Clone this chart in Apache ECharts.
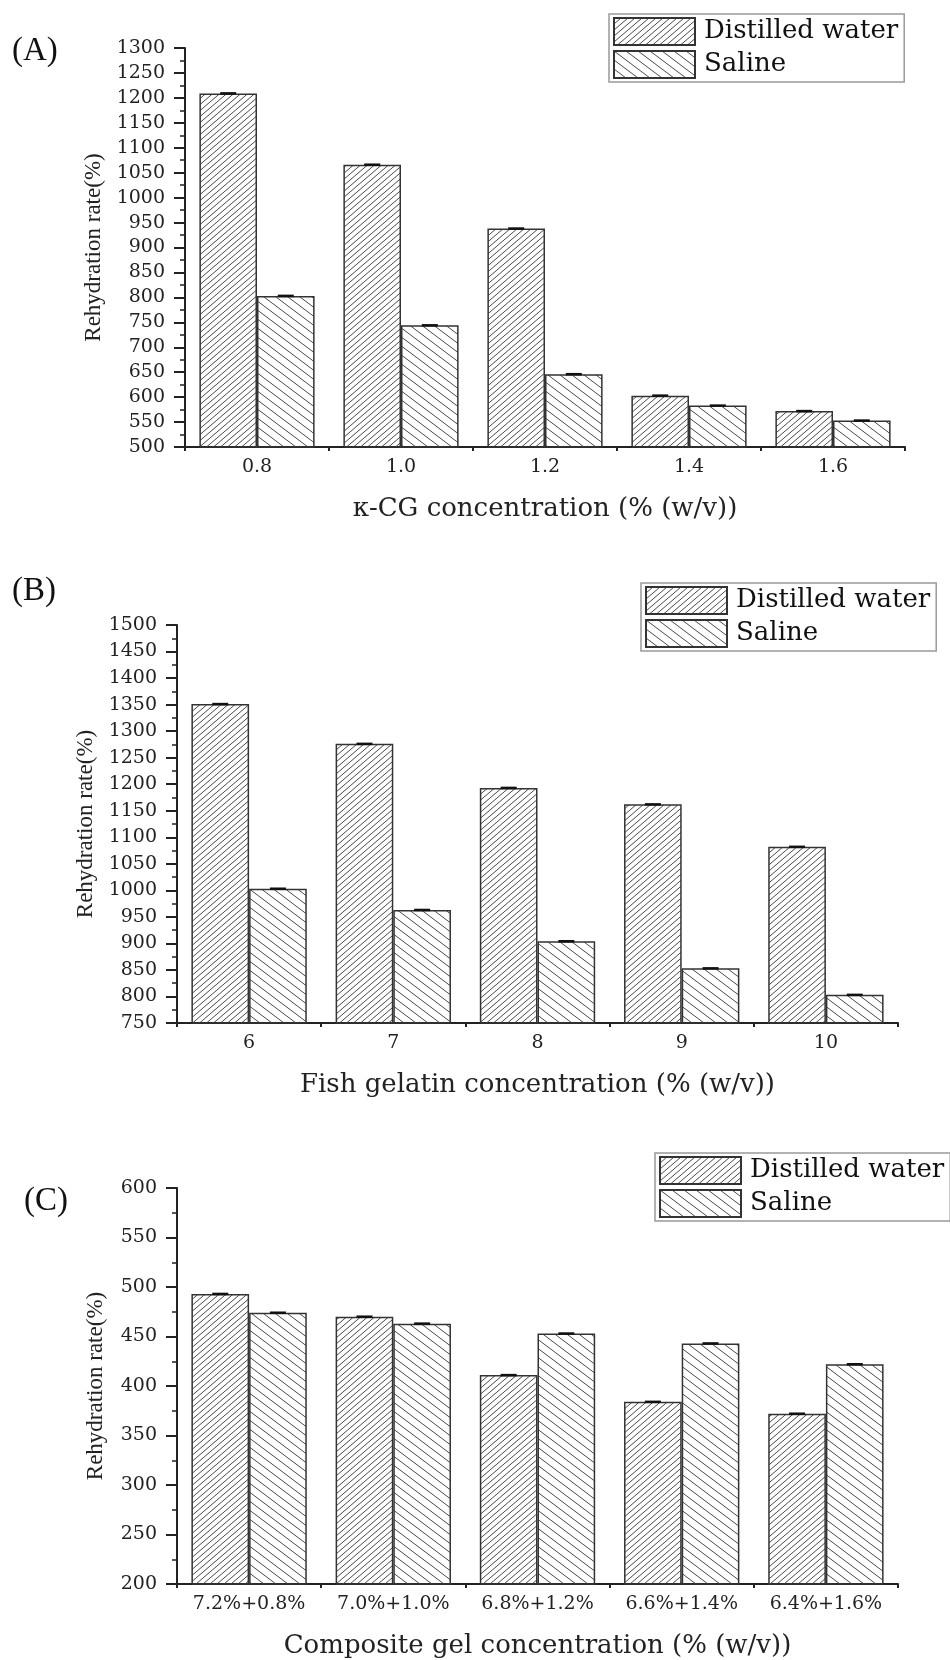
<!DOCTYPE html>
<html><head><meta charset="utf-8">
<script src="https://cdn.jsdelivr.net/npm/echarts@6/dist/echarts.min.js"></script>
<style>html,body{margin:0;padding:0;background:#fff}#c{width:950px;height:1660px}</style>
</head><body><div id="c"></div>
<script>
// ---- data ----
const seriesNames = ['Distilled water', 'Saline'];
const yTitle = 'Rehydration rate(%)';

const catsA = ['0.8', '1.0', '1.2', '1.4', '1.6'];
const dwA = [1209, 1066, 938, 603, 572];
const salA = [803, 744, 646, 583, 553];
const yRangeA = [500, 1300];
const xTitleA = 'κ-CG concentration (% (w/v))';

const catsB = ['6', '7', '8', '9', '10'];
const dwB = [1351, 1276, 1193, 1162, 1082];
const salB = [1003, 963, 904, 853, 803];
const yRangeB = [750, 1500];
const xTitleB = 'Fish gelatin concentration (% (w/v))';

const catsC = ['7.2%+0.8%', '7.0%+1.0%', '6.8%+1.2%', '6.6%+1.4%', '6.4%+1.6%'];
const dwC = [493, 470, 411, 384, 372];
const salC = [474, 463, 453, 443, 422];
const yRangeC = [200, 600];
const xTitleC = 'Composite gel concentration (% (w/v))';

const yInterval = 50;

// ---- hatch patterns ----
function hatch(w, h, dir) {
  const c = document.createElement('canvas');
  c.width = w; c.height = h;
  const g = c.getContext('2d');
  g.strokeStyle = '#4a4a4a'; g.lineWidth = 1;
  for (let dx = -w; dx <= w; dx += w) for (let dy = -h; dy <= h; dy += h) {
    g.beginPath();
    if (dir > 0) { g.moveTo(dx, h + dy); g.lineTo(w + dx, dy); }
    else { g.moveTo(dx, dy); g.lineTo(w + dx, h + dy); }
    g.stroke();
  }
  return c;
}
const patDW = hatch(7, 6, 1);
const patSal = hatch(12, 9, -1);

const INK = '#222';
const SERIF = 'DejaVu Serif';

function grid(left, top, width, height) { return { left, top, width, height }; }

function xMain(idx, cats, name) {
  return {
    type: 'category', gridIndex: idx, data: cats, position: 'bottom',
    axisLine: { lineStyle: { color: INK, width: 2 } },
    axisTick: { alignWithLabel: true, length: 7, lineStyle: { color: INK, width: 2 } },
    axisLabel: { color: INK, fontFamily: SERIF, fontSize: 19, margin: 11, interval: 0 },
    name, nameLocation: 'middle', nameGap: 49,
    nameTextStyle: { fontFamily: SERIF, fontSize: 26, color: INK }
  };
}
function xBound(idx, cats) {
  return {
    type: 'category', gridIndex: idx, data: cats, position: 'bottom',
    axisLine: { show: false },
    axisTick: { show: true, alignWithLabel: false, length: 4, interval: 0, lineStyle: { color: INK, width: 2 } },
    axisLabel: { show: false }
  };
}
function yMain(idx, range, gap) {
  return {
    type: 'value', gridIndex: idx, min: range[0], max: range[1], interval: yInterval,
    axisLine: { show: true, lineStyle: { color: INK, width: 2 } },
    axisTick: { show: true, length: 11, lineStyle: { color: INK, width: 2 } },
    minorTick: { show: true, splitNumber: 2, length: 5, lineStyle: { color: INK, width: 1.5 } },
    splitLine: { show: false },
    axisLabel: { color: INK, fontFamily: SERIF, fontSize: 19, margin: 20, formatter: v => String(v) },
    name: yTitle, nameLocation: 'middle', nameGap: gap,
    nameTextStyle: { fontFamily: 'Liberation Serif', fontSize: 23, color: INK }
  };
}
function bar(name, data, idx, pat) {
  return {
    type: 'bar', name, data, xAxisIndex: idx, yAxisIndex: idx,
    barGap: '0%', barCategoryGap: '20%', silent: true,
    itemStyle: { color: { image: pat, repeat: 'repeat' }, borderColor: '#333', borderWidth: 1.5 }
  };
}
function caps(data, idx, side) {
  return {
    type: 'custom', name: 'cap' + idx + side, xAxisIndex: idx, yAxisIndex: idx, silent: true, z: 5,
    data: data.map((v, i) => [i, v]),
    renderItem: function (params, api) {
      const p = api.coord([api.value(0), api.value(1)]);
      const bw = api.size([1, 0])[0];
      const cx = p[0] + side * bw * 0.2;
      return { type: 'line', shape: { x1: cx - 8, y1: p[1], x2: cx + 8, y2: p[1] },
               style: { stroke: '#111', lineWidth: 2.5 } };
    }
  };
}
function legend(left, top) {
  return {
    left, top, orient: 'vertical', icon: 'rect', itemWidth: 81, itemHeight: 27, itemGap: 4,
    padding: [3, 6, 3, 4], borderColor: '#999', borderWidth: 1.5, selectedMode: false,
    data: seriesNames,
    textStyle: { fontFamily: SERIF, fontSize: 26, color: '#111', padding: [0, 0, 0, 4] }
  };
}

const chart = echarts.init(document.getElementById('c'), null, { renderer: 'canvas' });
chart.setOption({
  backgroundColor: '#fff',
  animation: false,
  grid: [grid(185, 48, 720, 399), grid(177, 625, 721, 398), grid(177, 1188, 721, 399)],
  xAxis: [xMain(0, catsA, xTitleA), xMain(1, catsB, xTitleB), xMain(2, catsC, xTitleC),
          xBound(0, catsA), xBound(1, catsB), xBound(2, catsC)],
  yAxis: [yMain(0, yRangeA, 76), yMain(1, yRangeB, 79), yMain(2, yRangeC, 70)],
  legend: [legend(609, 14), legend(641, 583), legend(655, 1153)],
  series: [
    bar(seriesNames[0], dwA, 0, patDW), bar(seriesNames[1], salA, 0, patSal),
    bar(seriesNames[0], dwB, 1, patDW), bar(seriesNames[1], salB, 1, patSal),
    bar(seriesNames[0], dwC, 2, patDW), bar(seriesNames[1], salC, 2, patSal),
    caps(dwA, 0, -1), caps(salA, 0, 1),
    caps(dwB, 1, -1), caps(salB, 1, 1),
    caps(dwC, 2, -1), caps(salC, 2, 1)
  ],
  graphic: [
    { type: 'text', x: 12, y: 51, style: { text: '(A)', font: '33px "Liberation Serif"', fill: '#111', verticalAlign: 'middle' } },
    { type: 'text', x: 12, y: 591, style: { text: '(B)', font: '33px "Liberation Serif"', fill: '#111', verticalAlign: 'middle' } },
    { type: 'text', x: 24, y: 1201, style: { text: '(C)', font: '33px "Liberation Serif"', fill: '#111', verticalAlign: 'middle' } }
  ]
});
</script>
</body></html>
